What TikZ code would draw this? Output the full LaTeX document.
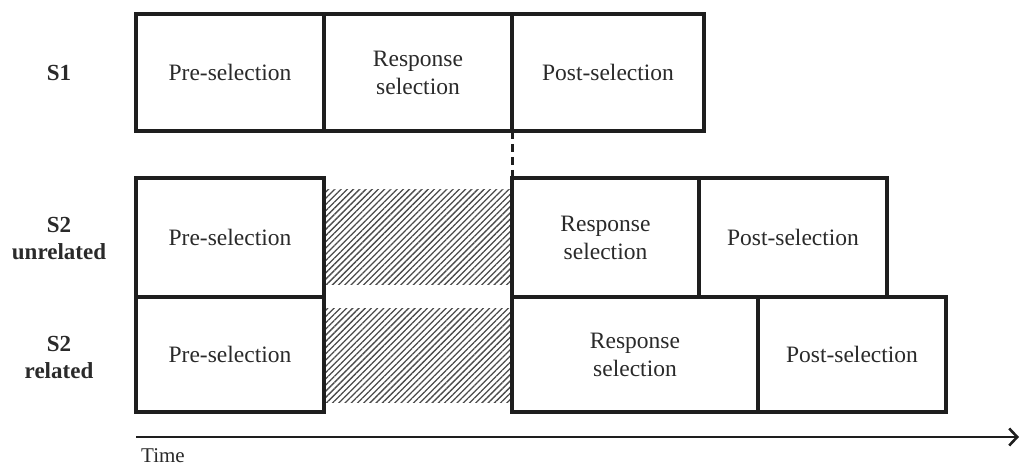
\documentclass[tikz,border=0pt]{standalone}
\usepackage{fontspec}
\setmainfont{Liberation Serif}
\usetikzlibrary{patterns.meta,arrows.meta}
\definecolor{ink}{HTML}{1E1E1E}
\definecolor{txt}{HTML}{2A2A2A}
\tikzset{
  stagebox/.style={draw=ink,line width=3.3pt,rectangle,inner sep=0pt,outer sep=0pt,text=txt,
    font=\fontsize{23.5}{28}\selectfont,align=center},
  rowlabel/.style={font=\fontsize{23}{27}\selectfont\bfseries,text=txt,align=center},
  hatch/.style={pattern={Lines[angle=45,distance=4.4pt,line width=1.3pt]},pattern color=ink!80},
}
\begin{document}
\begin{tikzpicture}[x=1pt,y=-1pt]
\useasboundingbox[fill=white] (0,0) rectangle (1021,468);
% row labels
\node[rowlabel] (l1) at (59,73) {S1};
\node[rowlabel] (l2) at (59,239) {S2\\unrelated};
\node[rowlabel] (l3) at (59,357) {S2\\related};
% hatched waiting periods
\fill[hatch] (326,190) rectangle (510,284);
\fill[hatch] (326,308) rectangle (510,402);
% S1
\node[stagebox,minimum width=188pt,minimum height=117pt] (s1pre) at (230,72.5) {Pre-selection};
\node[stagebox,minimum width=188pt,minimum height=117pt] (s1rs) at (418,72.5) {Response\\selection};
\node[stagebox,minimum width=192pt,minimum height=117pt] (s1post) at (608,72.5) {Post-selection};
% S2 unrelated
\node[stagebox,minimum width=188pt,minimum height=119pt] (u1) at (230,237.5) {Pre-selection};
\node[stagebox,minimum width=187pt,minimum height=119pt] (u2) at (605.5,237.5) {Response\\selection};
\node[stagebox,minimum width=188pt,minimum height=119pt] (u3) at (793,237.5) {Post-selection};
% S2 related
\node[stagebox,minimum width=188pt,minimum height=115pt] (r1) at (230,354.5) {Pre-selection};
\node[stagebox,minimum width=246pt,minimum height=115pt] (r2) at (635,354.5) {Response\\selection};
\node[stagebox,minimum width=188pt,minimum height=115pt] (r3) at (852,354.5) {Post-selection};
% dashed link
\draw[ink,line width=3pt,dash pattern=on 8pt off 5pt] (s1rs.south east) -- (u2.north west);
% time axis
\coordinate (t0) at (136,437);
\coordinate (t1) at (1019,437);
\draw[ink,line width=2.6pt,-{Straight Barb[length=8pt,width=17pt,line width=2.6pt]}] (t0) -- (t1);
\node[font=\fontsize{21}{23}\selectfont,text=txt] (time) at (163,456) {Time};
\end{tikzpicture}
\end{document}
